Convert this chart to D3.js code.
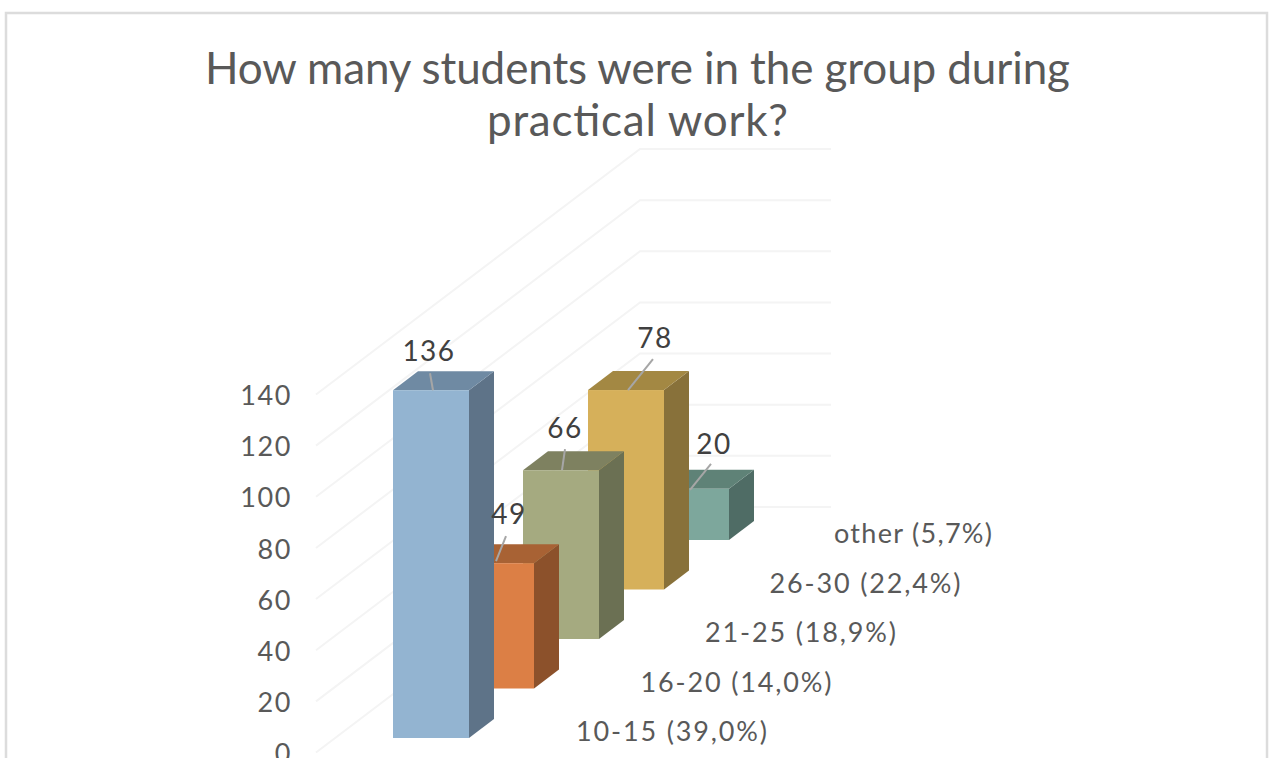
<!DOCTYPE html>
<html>
<head>
<meta charset="utf-8">
<style>
html,body{margin:0;padding:0;background:#fff;overflow:hidden}
svg{display:block}
text{font-family:Lato,"Open Sans",sans-serif}
</style>
<script src="https://cdn.jsdelivr.net/npm/d3@7"></script>
</head>
<body>
<svg id="chart" width="1273" height="758"></svg>
<script>
const categories = ["10-15 (39,0%)","16-20 (14,0%)","21-25 (18,9%)","26-30 (22,4%)","other (5,7%)"];
const values = [136,49,66,78,20];
const frontColors = ["#93b4d1","#dc7f45","#a5aa80","#d6b05a","#7da79c"];
const sideColors = ["#5e7388","#8c512b","#6b7053","#88713a","#4f6c65"];
const topColors = ["#6f8aa3","#a86234","#7e8160","#a38843","#5f8277"];
const tickValues = [0,20,40,60,80,100,120,140];
const titleLines = ["How many students were in the group during","practical work?"];

const svg = d3.select("#chart");

// frame
svg.append("rect").attr("x",6).attr("y",13).attr("width",1261).attr("height",770)
  .attr("fill","#fff").attr("stroke","#dcdcdc").attr("stroke-width",2.5);

// title
const titleWidths = [865,301];
svg.append("g").selectAll("text").data(titleLines).join("text")
  .attr("x",637.5).attr("y",(d,i)=>84+i*52)
  .attr("text-anchor","middle").attr("fill","#595959")
  .attr("font-size",44).attr("font-weight",400)
  .attr("textLength",(d,i)=>titleWidths[i]).attr("lengthAdjust","spacing")
  .text(d=>d);

// scales
const y = d3.scaleLinear().domain([0,140]).range([0,-358]);
const depthX = d3.scaleLinear().domain([0,4]).range([393,653]);
const depthY = d3.scaleLinear().domain([0,4]).range([738,540]);
const barW = 76, ox = 25, oy = -19;

// gridlines
const gridFrontX = 316, gridBackX = 640, gridEndX = 831, gridFrontY = 752.5, gridBackY = 507;
svg.append("g").selectAll("path").data(tickValues).join("path")
  .attr("fill","none").attr("stroke","#f4f4f4").attr("stroke-width",2)
  .attr("d",v=>d3.line()([
    [gridFrontX,gridFrontY+y(v)],
    [gridBackX,gridBackY+y(v)],
    [gridEndX,gridBackY+y(v)]
  ]));

// value axis
const axisScale = d3.scaleLinear().domain([0,140]).range([754,396]);
const axisG = svg.append("g").attr("transform","translate(292,0)")
  .call(d3.axisLeft(axisScale).tickValues(tickValues).tickSize(0).tickPadding(0));
axisG.select(".domain").remove();
axisG.selectAll("text").attr("fill","#595959").attr("font-size",27).attr("letter-spacing",1.6)
  .style("font-family","Lato,sans-serif").attr("font-weight",400);

// bars, drawn back to front
const order = d3.range(values.length).reverse();
const bars = svg.append("g").selectAll("g").data(order).join("g");
const poly = d3.line();
bars.append("path").attr("fill",i=>sideColors[i]).attr("d",i=>{
  const x=depthX(i)+barW, b=depthY(i), t=b+y(values[i]);
  return poly([[x,b],[x+ox,b+oy],[x+ox,t+oy],[x,t]])+"Z";
});
bars.append("path").attr("fill",i=>topColors[i]).attr("d",i=>{
  const x=depthX(i), t=depthY(i)+y(values[i]);
  return poly([[x,t],[x+ox,t+oy],[x+barW+ox,t+oy],[x+barW,t]])+"Z";
});
bars.append("rect").attr("fill",i=>frontColors[i])
  .attr("x",i=>depthX(i)).attr("y",i=>depthY(i)+y(values[i]))
  .attr("width",barW).attr("height",i=>-y(values[i]));

// data labels and leader lines (offsets from the front top-left corner of each bar)
const labelDX = [36,51,42,67,61], labelDY = [-39,-49,-42,-52,-45];
const leadA = [[37,-17],[48,-27],[42,-21],[65,-31],[58,-25]];
const leadB = [[40,0],[38,-2],[39,0],[40,0],[37,1]];
const labels = svg.append("g");
values.forEach((v,i)=>{
  const x=depthX(i), t=depthY(i)+y(v);
  labels.append("line").attr("x1",x+leadA[i][0]).attr("y1",t+leadA[i][1])
    .attr("x2",x+leadB[i][0]).attr("y2",t+leadB[i][1])
    .attr("stroke","#a6a6a6").attr("stroke-width",2);
  labels.append("text").attr("x",x+labelDX[i]).attr("y",t+labelDY[i]+10)
    .attr("text-anchor","middle").attr("fill","#404040")
    .attr("font-size",28).attr("letter-spacing",1.5).attr("font-weight",400).text(v);
});

// category labels
const catWidths = [191,191,191,191,158];
const catX = d3.scaleLinear().domain([0,4]).range([576,834]);
const catY = d3.scaleLinear().domain([0,4]).range([741,543]);
svg.append("g").selectAll("text").data(categories).join("text")
  .attr("x",(d,i)=>catX(i)).attr("y",(d,i)=>catY(i))
  .attr("fill","#595959").attr("font-size",27).attr("font-weight",400)
  .attr("textLength",(d,i)=>catWidths[i]).attr("lengthAdjust","spacing")
  .text(d=>d);
</script>
</body>
</html>
